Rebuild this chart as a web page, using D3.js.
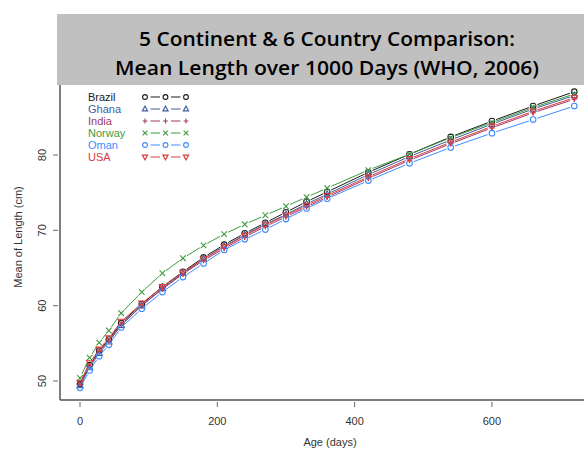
<!DOCTYPE html>
<html>
<head>
<meta charset="utf-8">
<script src="https://cdn.jsdelivr.net/npm/d3@7"></script>
<style>
  body { margin: 0; background: #fff; }
  svg { display: block; }
</style>
</head>
<body>
<div id="chart"></div>
<script>
// ages in days (R type="b" plot of mean length)
var ages = [0, 14, 28, 42, 60, 90, 120, 150, 180, 210, 240, 270, 300, 330, 360, 420, 480, 540, 600, 660, 720];

var countries = ["Brazil", "Ghana", "India", "Norway", "Oman", "USA"];

var brazil = [49.6, 52.1, 54.0, 55.5, 57.7, 60.2, 62.5, 64.5, 66.4, 68.1, 69.6, 71.0, 72.4, 73.8, 75.1, 77.7, 80.1, 82.4, 84.5, 86.5, 88.4];
var ghana  = [49.4, 51.8, 53.7, 55.2, 57.4, 60.0, 62.3, 64.3, 66.2, 67.9, 69.4, 70.8, 72.1, 73.5, 74.8, 77.4, 79.8, 82.0, 84.1, 86.1, 87.9];
var india  = [49.5, 52.0, 53.9, 55.3, 57.5, 60.0, 62.2, 64.2, 66.0, 67.6, 69.1, 70.5, 71.8, 73.1, 74.4, 76.9, 79.3, 81.5, 83.6, 85.6, 87.4];
var norway = [50.4, 53.1, 55.1, 56.7, 59.0, 61.8, 64.3, 66.3, 68.0, 69.5, 70.8, 72.0, 73.2, 74.4, 75.6, 78.0, 80.1, 82.3, 84.3, 86.3, 88.1];
var oman   = [49.1, 51.4, 53.3, 54.8, 57.1, 59.6, 61.8, 63.8, 65.6, 67.4, 68.8, 70.1, 71.5, 72.9, 74.2, 76.6, 78.9, 81.0, 82.9, 84.7, 86.5];
var usa    = [49.8, 52.4, 54.2, 55.7, 57.9, 60.3, 62.5, 64.4, 66.2, 67.8, 69.3, 70.7, 72.0, 73.3, 74.6, 77.1, 79.5, 81.7, 83.8, 85.8, 87.6];

var xTicks = [0, 200, 400, 600];
var yTicks = [50, 60, 70, 80];

var titleLines = ["5 Continent & 6 Country Comparison:", "Mean Length over 1000 Days (WHO, 2006)"];

var width = 584, height = 450;

var seriesData = [brazil, ghana, india, norway, oman, usa];
var colors = ["#1a1a1a", "#3d5e9e", "#a23a66", "#3d9a3d", "#3f8cff", "#d83a3a"];
var shapes = ["circle", "triangle", "plus", "cross", "circle", "triangleDown"];

var svg = d3.select("#chart")
    .append("svg")
    .attr("width", width)
    .attr("height", height);

var x = d3.scaleLinear().domain([0, 720]).range([80, 574.3]);
var y = d3.scaleLinear().domain([50, 80]).range([381, 155]);

// title banner
svg.append("rect")
    .attr("x", 57).attr("y", 14)
    .attr("width", width - 57).attr("height", 71)
    .attr("fill", "#c0c0c0");

svg.selectAll(".title")
    .data(titleLines)
    .enter().append("text")
    .attr("class", "title")
    .attr("x", 327)
    .attr("y", function (d, i) { return 46 + i * 29; })
    .attr("text-anchor", "middle")
    .attr("font-family", "Open Sans, sans-serif")
    .attr("font-weight", "600")
    .attr("font-size", 20)
    .attr("fill", "#000")
    .attr("textLength", function (d, i) { return i === 0 ? 376 : 424; })
    .attr("lengthAdjust", "spacingAndGlyphs")
    .text(function (d) { return d; });

// axes (R style, L-shaped)
var axisColor = "#555";
svg.append("line")
    .attr("x1", 60).attr("x2", 60).attr("y1", 85).attr("y2", 400)
    .attr("stroke", axisColor).attr("stroke-width", 1.5);
svg.append("line")
    .attr("x1", 60).attr("x2", width).attr("y1", 400).attr("y2", 400)
    .attr("stroke", axisColor).attr("stroke-width", 1.5);

var font = "Liberation Sans, Arial, sans-serif";

svg.selectAll(".xtick")
    .data(xTicks)
    .enter().append("line")
    .attr("x1", function (d) { return x(d); })
    .attr("x2", function (d) { return x(d); })
    .attr("y1", 402).attr("y2", 407)
    .attr("stroke", "#666");

svg.selectAll(".xlab")
    .data(xTicks)
    .enter().append("text")
    .attr("x", function (d) { return x(d); })
    .attr("y", 425)
    .attr("text-anchor", "middle")
    .attr("font-family", font)
    .attr("font-size", 11)
    .attr("fill", "#333")
    .text(function (d) { return d; });

svg.selectAll(".ytick")
    .data(yTicks)
    .enter().append("line")
    .attr("x1", 53).attr("x2", 58)
    .attr("y1", function (d) { return y(d); })
    .attr("y2", function (d) { return y(d); })
    .attr("stroke", "#666");

svg.selectAll(".ylab")
    .data(yTicks)
    .enter().append("text")
    .attr("transform", function (d) { return "translate(46," + y(d) + ") rotate(-90)"; })
    .attr("text-anchor", "middle")
    .attr("font-family", font)
    .attr("font-size", 11)
    .attr("fill", "#333")
    .text(function (d) { return d; });

svg.append("text")
    .attr("x", 330).attr("y", 446)
    .attr("text-anchor", "middle")
    .attr("font-family", font)
    .attr("font-size", 11)
    .attr("fill", "#333")
    .text("Age (days)");

svg.append("text")
    .attr("transform", "translate(22,237) rotate(-90)")
    .attr("text-anchor", "middle")
    .attr("font-family", font)
    .attr("font-size", 11)
    .attr("fill", "#333")
    .text("Mean of Length (cm)");

// marker drawing
function drawMarker(g, shape, cx, cy, color, s) {
    if (shape === "circle") {
        g.append("circle").attr("cx", cx).attr("cy", cy).attr("r", s)
            .attr("fill", "none").attr("stroke", color).attr("stroke-width", 1.1);
    } else if (shape === "triangle" || shape === "triangleDown") {
        var dir = shape === "triangle" ? 1 : -1;
        var pts = [[cx, cy - dir * s * 1.2], [cx - s * 1.1, cy + dir * s * 0.8], [cx + s * 1.1, cy + dir * s * 0.8]];
        g.append("polygon").attr("points", pts.map(function (p) { return p.join(","); }).join(" "))
            .attr("fill", "none").attr("stroke", color).attr("stroke-width", 1.1);
    } else if (shape === "plus") {
        g.append("path").attr("d", "M" + (cx - s) + "," + cy + "H" + (cx + s) + "M" + cx + "," + (cy - s) + "V" + (cy + s))
            .attr("stroke", color).attr("stroke-width", 1.1);
    } else if (shape === "cross") {
        g.append("path").attr("d", "M" + (cx - s) + "," + (cy - s) + "L" + (cx + s) + "," + (cy + s) +
            "M" + (cx - s) + "," + (cy + s) + "L" + (cx + s) + "," + (cy - s))
            .attr("stroke", color).attr("stroke-width", 1.1);
    }
}

// segments with gaps around points, like R type="b"
function gappedSegments(pts, gap) {
    var segs = [];
    for (var i = 0; i < pts.length - 1; i++) {
        var a = pts[i], b = pts[i + 1];
        var dx = b[0] - a[0], dy = b[1] - a[1];
        var len = Math.sqrt(dx * dx + dy * dy);
        if (len <= 2 * gap) continue;
        var ux = dx / len, uy = dy / len;
        segs.push([a[0] + ux * gap, a[1] + uy * gap, b[0] - ux * gap, b[1] - uy * gap]);
    }
    return segs;
}

seriesData.forEach(function (vals, k) {
    var g = svg.append("g").attr("class", "series-" + countries[k]);
    var pts = ages.map(function (a, i) { return [x(a), y(vals[i])]; });
    g.selectAll("line")
        .data(gappedSegments(pts, 4.5))
        .enter().append("line")
        .attr("x1", function (d) { return d[0]; })
        .attr("y1", function (d) { return d[1]; })
        .attr("x2", function (d) { return d[2]; })
        .attr("y2", function (d) { return d[3]; })
        .attr("stroke", colors[k])
        .attr("stroke-width", 1);
    pts.forEach(function (p) { drawMarker(g, shapes[k], p[0], p[1], colors[k], 2.8); });
});

// legend
var legend = svg.append("g").attr("class", "legend");
countries.forEach(function (name, k) {
    var ly = 97 + k * 12;
    legend.append("text")
        .attr("x", 88).attr("y", ly + 4)
        .attr("font-family", font)
        .attr("font-size", 11)
        .attr("fill", colors[k])
        .text(name);
    var lp = [[145, ly], [165.5, ly], [186, ly]];
    gappedSegments(lp, 5.5).forEach(function (d) {
        legend.append("line")
            .attr("x1", d[0]).attr("y1", d[1]).attr("x2", d[2]).attr("y2", d[3])
            .attr("stroke", colors[k]).attr("stroke-width", 1);
    });
    lp.forEach(function (p) { drawMarker(legend, shapes[k], p[0], p[1], colors[k], 2.4); });
});
</script>
</body>
</html>
